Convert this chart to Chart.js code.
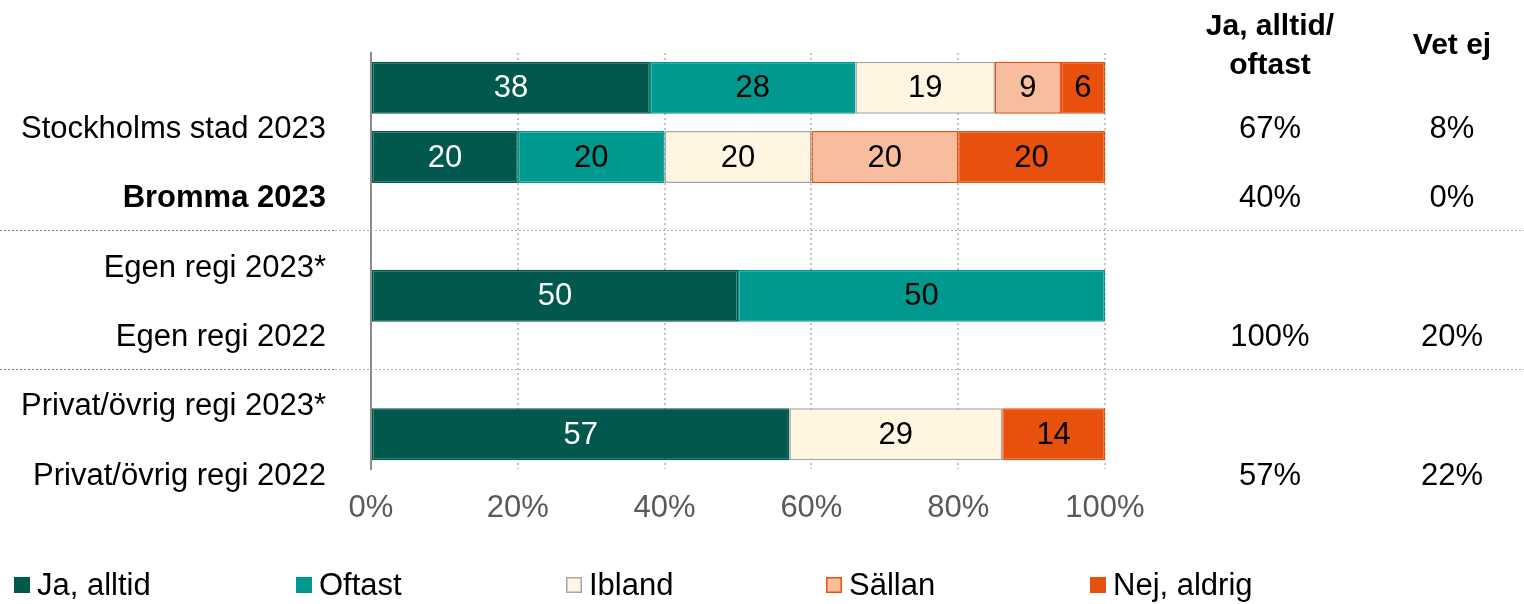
<!DOCTYPE html>
<html>
<head>
<meta charset="utf-8">
<script src="https://cdn.jsdelivr.net/npm/chart.js@4/dist/chart.umd.min.js"></script>
<style>
  html, body { margin: 0; padding: 0; background: #fff; }
  #c { display: block; }
</style>
</head>
<body>
<canvas id="c" width="1524" height="604"></canvas>
<script>
// Rader (etiketter till vänster)
const rowLabels = ['Stockholms stad 2023', 'Bromma 2023', 'Egen regi 2023*', 'Egen regi 2022', 'Privat/övrig regi 2023*', 'Privat/övrig regi 2022'];
const boldRows = [false, true, false, false, false, false];

// Serier (andel i procent), null = ingen stapel i den raden
const seriesNames = ['Ja, alltid', 'Oftast', 'Ibland', 'Sällan', 'Nej, aldrig'];
const jaAlltid  = [38, 20, null, 50, null, 57];
const oftast    = [28, 20, null, 50, null, null];
const ibland    = [19, 20, null, null, null, 29];
const sallan    = [9, 20, null, null, null, null];
const nejAldrig = [6, 20, null, null, null, 14];

// Kolumner till höger
const colHeaders = [['Ja, alltid/', 'oftast'], ['Vet ej']];
const jaOftast = [67, 40, null, 100, null, 57];
const vetEj    = [8, 0, null, 20, null, 22];

// Axel
const xTicks = [0, 20, 40, 60, 80, 100];

const FONT = "'Liberation Sans', Arial, sans-serif";
const SIZE = 31;
const fills   = ['#00594c', '#00998f', '#fff5e1', '#f7bd9c', '#e8500e'];
const borders = ['#00594c', '#00998f', '#a6a6a6', '#e8500e', '#e8500e'];
const textCol = ['#ffffff', '#000000', '#000000', '#000000', '#000000'];
const legendX = [14, 296, 566, 826, 1090];

const allSeries = [jaAlltid, oftast, ibland, sallan, nejAldrig];

// Värden i staplarna
const barLabels = {
    id: 'barLabels',
    afterDatasetsDraw(chart) {
        const ctx = chart.ctx;
        ctx.save();
        ctx.font = SIZE + 'px ' + FONT;
        ctx.textAlign = 'center';
        ctx.textBaseline = 'middle';
        chart.data.datasets.forEach((ds, di) => {
            const meta = chart.getDatasetMeta(di);
            meta.data.forEach((bar, i) => {
                const v = ds.data[i];
                if (v == null) return;
                ctx.fillStyle = textCol[di];
                ctx.fillText(String(v), (bar.x + bar.base) / 2, bar.y + 1);
            });
        });
        ctx.restore();
    }
};

// Etiketter, avskiljare, högerkolumner och förklaring
const extras = {
    id: 'extras',
    afterDraw(chart) {
        const ctx = chart.ctx;
        const y = chart.scales.y;
        const W = chart.width;
        ctx.save();

        // radetiketter
        ctx.textBaseline = 'middle';
        rowLabels.forEach((lab, i) => {
            const py = y.getPixelForValue(i + 0.5) + 7;
            ctx.font = (boldRows[i] ? 'bold ' : '') + SIZE + 'px ' + FONT;
            ctx.fillStyle = '#000';
            ctx.textAlign = 'right';
            ctx.fillText(lab, 326, py);
            ctx.font = SIZE + 'px ' + FONT;
            ctx.textAlign = 'center';
            if (jaOftast[i] != null) ctx.fillText(jaOftast[i] + '%', 1270, py);
            if (vetEj[i] != null) ctx.fillText(vetEj[i] + '%', 1452, py);
        });

        // rubriker
        ctx.font = 'bold ' + (SIZE - 1) + 'px ' + FONT;
        ctx.textAlign = 'center';
        ctx.fillText(colHeaders[0][0], 1270, 27);
        ctx.fillText(colHeaders[0][1], 1270, 66);
        ctx.fillText(colHeaders[1][0], 1452, 46);

        // avskiljande linjer
        ctx.lineWidth = 1;
        ctx.setLineDash([2, 2]);
        [2, 4].forEach(v => {
            const py = Math.round(y.getPixelForValue(v) + 4) + 0.5;
            ctx.strokeStyle = '#7f7f7f';
            ctx.beginPath(); ctx.moveTo(0, py); ctx.lineTo(335, py); ctx.stroke();
            ctx.strokeStyle = '#b3b3b3';
            ctx.beginPath(); ctx.moveTo(335, py); ctx.lineTo(W, py); ctx.stroke();
        });
        ctx.setLineDash([]);

        // förklaring
        ctx.font = SIZE + 'px ' + FONT;
        ctx.textAlign = 'left';
        seriesNames.forEach((name, i) => {
            const lx = legendX[i];
            ctx.fillStyle = fills[i];
            ctx.fillRect(lx, 577, 16, 16);
            ctx.strokeStyle = borders[i];
            ctx.lineWidth = 1.5;
            ctx.strokeRect(lx + 0.75, 577.75, 14.5, 14.5);
            ctx.fillStyle = '#000';
            ctx.fillText(name, lx + 23, 586);
        });
        ctx.restore();
    }
};

new Chart(document.getElementById('c'), {
    type: 'bar',
    data: {
        labels: rowLabels,
        datasets: allSeries.map((d, i) => ({
            label: seriesNames[i],
            data: d,
            backgroundColor: fills[i],
            borderColor: borders[i],
            borderWidth: 1.5,
            borderSkipped: false,
            barPercentage: 0.75,
            categoryPercentage: 1
        }))
    },
    options: {
        indexAxis: 'y',
        responsive: false,
        animation: false,
        layout: { padding: { left: 371, right: 419, top: 53, bottom: 65 } },
        plugins: {
            legend: { display: false },
            tooltip: { enabled: false }
        },
        scales: {
            x: {
                stacked: true,
                min: 0,
                max: 100,
                afterBuildTicks: s => { s.ticks = xTicks.map(v => ({ value: v })); },
                ticks: {
                    callback: v => v + '%',
                    color: '#595959',
                    font: { family: FONT, size: SIZE },
                    padding: 21,
                    maxRotation: 0
                },
                grid: { color: '#c4c4c4', lineWidth: 2, drawTicks: false },
                border: { display: false, dash: [2, 3] },
                afterFit: s => { s.height = 70; }
            },
            y: {
                stacked: true,
                ticks: { display: false },
                grid: { display: false, drawTicks: false },
                border: { display: true, color: '#8c8c8c', width: 2 },
                afterFit: s => { s.width = 0; }
            }
        }
    },
    plugins: [barLabels, extras]
});
</script>
</body>
</html>
